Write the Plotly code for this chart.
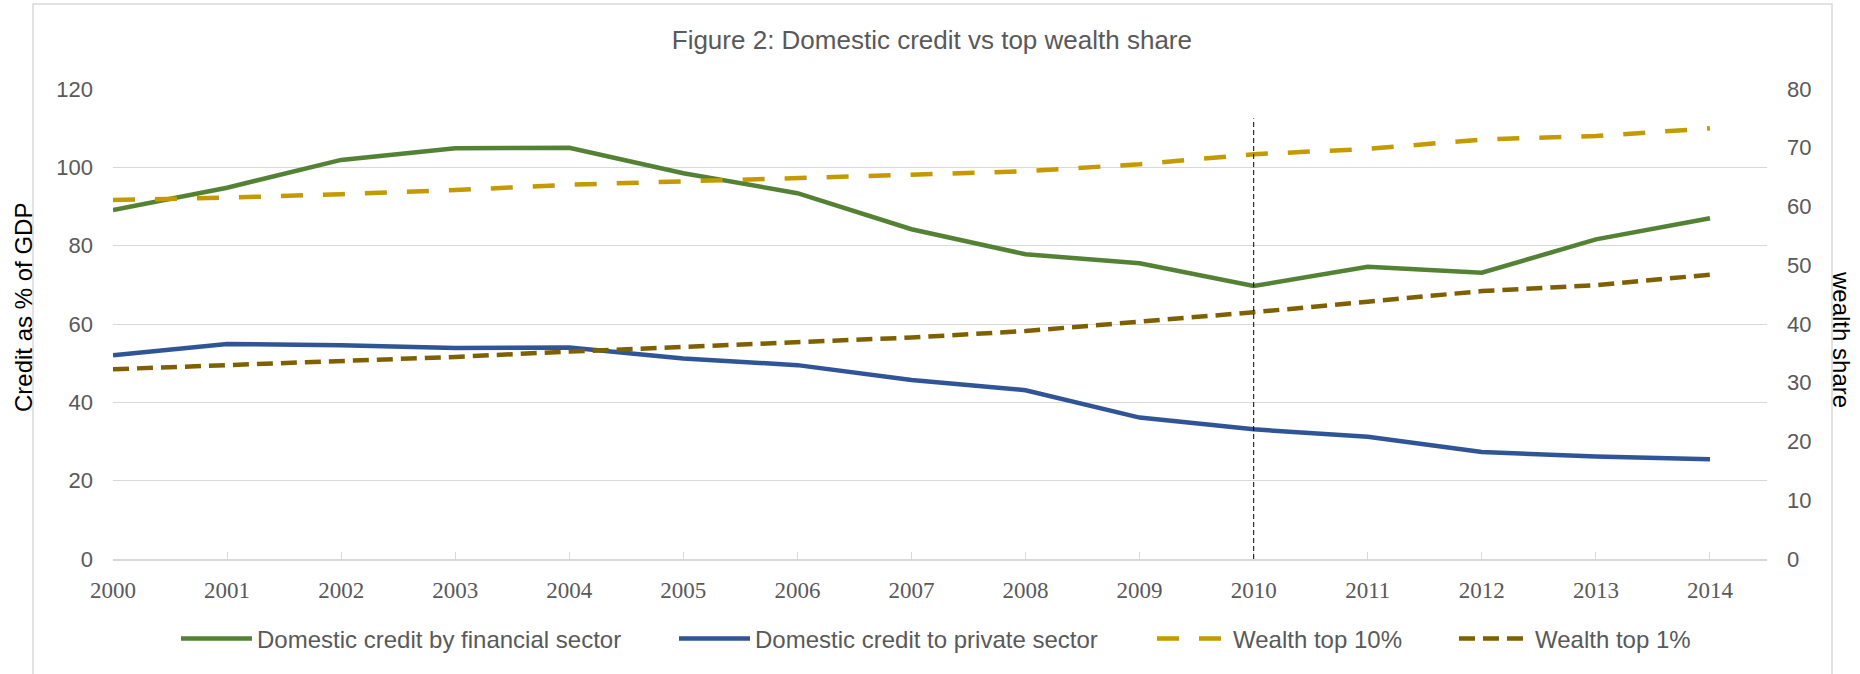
import plotly.graph_objects as go

years = [2000, 2001, 2002, 2003, 2004, 2005, 2006, 2007, 2008, 2009, 2010, 2011, 2012, 2013, 2014]
credit_financial = [89.1, 94.8, 101.9, 104.9, 105.0, 98.5, 93.4, 84.2, 77.8, 75.5, 69.7, 74.6, 73.1, 81.6, 87.0]
credit_private = [52.0, 54.9, 54.6, 53.9, 54.0, 51.2, 49.5, 45.7, 43.1, 36.1, 33.1, 31.2, 27.3, 26.2, 25.5]
wealth_top10 = [61.1, 61.5, 62.1, 62.8, 63.7, 64.3, 64.9, 65.4, 66.0, 67.2, 68.9, 69.8, 71.4, 72.0, 73.3]
wealth_top1 = [32.3, 33.0, 33.6, 34.4, 35.3, 36.1, 37.0, 37.7, 38.8, 40.4, 42.0, 43.8, 45.6, 46.6, 48.4]
tick_labels = [str(y) for y in years]
marker_year = 2010
marker_top = 112.5

GRAY = "#595959"
GRID = "#D9D9D9"
SANS = "Liberation Sans, Arial, sans-serif"
SERIF = "Liberation Serif, Times New Roman, serif"

W, H = 1860, 674
ML, MR, MT, MB = 113, 93, 89, 115
PW, PH = W - ML - MR, H - MT - MB


def px_x(px):
    return (px - ML) / PW


def px_y(py):
    return (H - MB - py) / PH


series = [
    ("Domestic credit by financial sector", credit_financial, "#548235", "solid", "y", "legend", 181),
    ("Domestic credit to private sector", credit_private, "#2F5597", "solid", "y", "legend2", 679),
    ("Wealth top 10%", wealth_top10, "#C49A00", "22px,20px", "y2", "legend3", 1157),
    ("Wealth top 1%", wealth_top1, "#7F6000", "16px,8px", "y2", "legend4", 1459),
]

fig = go.Figure()
legend_layouts = {}
for name, vals, color, dash, yax, leg, lx in series:
    fig.add_trace(go.Scatter(x=years, y=vals, name=name, mode="lines",
                             line=dict(color=color, width=4.5, dash=dash), yaxis=yax, legend=leg))
    legend_layouts[leg] = dict(orientation="h", x=px_x(lx - 5), xanchor="left", y=px_y(639), yanchor="middle",
                               font=dict(family=SANS, size=24, color=GRAY), itemwidth=71,
                               bgcolor="rgba(0,0,0,0)", borderwidth=0)

fig.update_layout(
    width=W, height=H, autosize=False,
    margin=dict(l=ML, r=MR, t=MT, b=MB, pad=0),
    paper_bgcolor="white", plot_bgcolor="white",
    font=dict(family=SANS, color=GRAY, size=22),
    title=dict(text="Figure 2: Domestic credit vs top wealth share", x=0.501, xref="container",
               xanchor="center", y=1 - 40 / H, yref="container", yanchor="middle",
               font=dict(family=SANS, size=26, color=GRAY)),
    xaxis=dict(range=[2000, 2014.5], tickvals=years, ticktext=tick_labels,
               tickfont=dict(family=SERIF, size=23, color=GRAY),
               showgrid=False, zeroline=False, showline=True, linecolor=GRID, linewidth=1.5,
               ticks="inside", ticklen=7, tickcolor=GRID, tickwidth=1, ticklabelstandoff=10),
    yaxis=dict(range=[0, 120], tickvals=[0, 20, 40, 60, 80, 100, 120],
               showgrid=True, gridcolor=GRID, gridwidth=1, zeroline=False, showline=False,
               tickfont=dict(family=SANS, size=22, color=GRAY), ticks="", ticklabelstandoff=19),
    yaxis2=dict(range=[0, 80], tickvals=[0, 10, 20, 30, 40, 50, 60, 70, 80], overlaying="y", side="right",
                showgrid=False, zeroline=False, showline=False,
                tickfont=dict(family=SANS, size=22, color=GRAY), ticks="", ticklabelstandoff=19),
    showlegend=True,
    **legend_layouts,
)

fig.add_annotation(text="Credit as % of GDP", xref="paper", yref="paper", x=px_x(23), y=px_y(308),
                   textangle=-90, showarrow=False, xanchor="center", yanchor="middle",
                   font=dict(family=SANS, size=24, color="black"))
fig.add_annotation(text="wealth share", xref="paper", yref="paper", x=px_x(1842), y=px_y(339),
                   textangle=90, showarrow=False, xanchor="center", yanchor="middle",
                   font=dict(family=SANS, size=24, color="black"))

fig.add_shape(type="rect", xref="paper", yref="paper", x0=px_x(33), x1=px_x(1832), y0=px_y(700), y1=px_y(4),
              line=dict(color=GRID, width=1.5), layer="below")
fig.add_shape(type="line", xref="x", yref="y", x0=marker_year, x1=marker_year, y0=0, y1=marker_top,
              line=dict(color="black", width=1, dash="5px,3px"))

fig.write_html("out.html", post_script="document.body.style.margin='0';")
